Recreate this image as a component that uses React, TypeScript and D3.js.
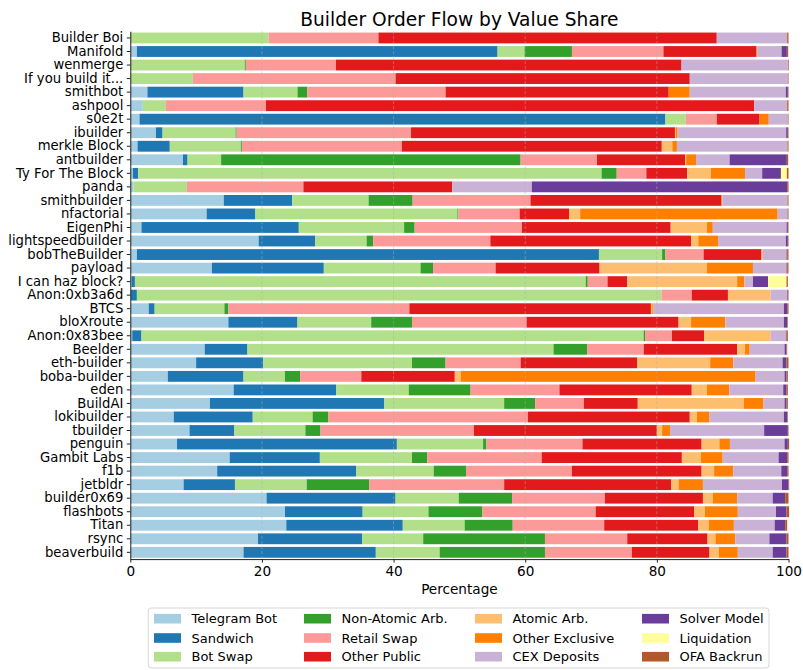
import React, { useEffect, useRef } from 'react';
import * as d3 from 'd3';

const builders = [
  'Builder Boi', 'Manifold', 'wenmerge', 'If you build it...', 'smithbot', 'ashpool', 's0e2t',
  'ibuilder', 'merkle Block', 'antbuilder', 'Ty For The Block', 'panda', 'smithbuilder',
  'nfactorial', 'EigenPhi', 'lightspeedbuilder', 'bobTheBuilder', 'payload', 'I can haz block?',
  'Anon:0xb3a6d', 'BTCS', 'bloXroute', 'Anon:0x83bee', 'Beelder', 'eth-builder', 'boba-builder',
  'eden', 'BuildAI', 'lokibuilder', 'tbuilder', 'penguin', 'Gambit Labs', 'f1b', 'jetbldr',
  'builder0x69', 'flashbots', 'Titan', 'rsync', 'beaverbuild',
];

const categories = [
  'Telegram Bot', 'Sandwich', 'Bot Swap', 'Non-Atomic Arb.', 'Retail Swap', 'Other Public',
  'Atomic Arb.', 'Other Exclusive', 'CEX Deposits', 'Solver Model', 'Liquidation', 'OFA Backrun',
];

const colors = [
  '#a6cee3', '#1f78b4', '#b2df8a', '#33a02c', '#fb9a99', '#e31a1c',
  '#fdbf6f', '#ff7f00', '#cab2d6', '#6a3d9a', '#ffff99', '#b15928',
];

// one array per category, in builder order
const telegramBot = [0, 1.0, 0, 0, 2.6, 1.9, 1.4, 3.9, 1.1, 8.0, 0.4, 0.5, 14.2, 11.6, 1.7, 19.5, 1.0, 12.4, 0.2, 0.1, 2.8, 14.9, 0.3, 11.3, 10.0, 5.7, 15.7, 12.1, 6.6, 9.0, 7.1, 15.1, 13.2, 8.1, 20.7, 23.5, 23.7, 19.4, 17.2];
const sandwich = [0, 54.8, 0, 0, 14.6, 0, 79.9, 1.0, 4.9, 0.7, 0.8, 0, 10.4, 7.4, 23.9, 8.6, 70.2, 17.0, 0.5, 0.9, 0.9, 10.5, 1.4, 6.5, 10.2, 11.5, 15.6, 26.5, 12.0, 6.8, 33.4, 13.7, 21.1, 7.8, 19.6, 11.8, 17.7, 15.8, 20.1];
const botSwap = [21.0, 4.1, 17.4, 9.5, 8.2, 3.5, 3.1, 11.1, 10.8, 5.1, 70.4, 8.1, 11.6, 30.7, 16.0, 7.8, 9.6, 14.7, 68.5, 79.7, 10.6, 11.2, 76.3, 46.5, 22.6, 6.3, 11.0, 18.2, 9.1, 10.8, 13.1, 14.0, 11.8, 10.9, 9.6, 10.0, 9.4, 9.3, 9.7];
const nonAtomicArb = [0, 7.2, 0.15, 0, 1.5, 0, 0, 0.15, 0.15, 45.5, 2.3, 0, 6.7, 0.15, 1.6, 1.0, 0.5, 1.9, 0.3, 0, 0.6, 6.2, 0.2, 5.1, 5.1, 2.3, 9.4, 4.7, 2.4, 2.3, 0.5, 2.3, 4.9, 9.5, 8.1, 8.2, 7.3, 18.5, 16.0];
const retailSwap = [16.7, 13.9, 13.7, 30.8, 21.0, 15.2, 4.7, 26.5, 24.3, 11.6, 4.5, 17.7, 17.9, 9.3, 16.3, 17.8, 5.8, 9.5, 3.0, 4.6, 27.5, 17.4, 4.1, 8.6, 11.4, 9.3, 13.5, 7.4, 30.3, 23.3, 14.6, 17.4, 16.1, 20.5, 14.1, 17.2, 13.9, 12.5, 13.2];
const otherPublic = [51.4, 14.1, 52.5, 44.7, 33.9, 74.2, 6.5, 40.1, 39.5, 13.4, 6.2, 22.6, 29.0, 7.5, 22.6, 30.5, 8.8, 15.8, 3.0, 5.5, 36.7, 23.1, 4.9, 14.2, 17.7, 14.2, 20.1, 8.2, 24.6, 27.8, 18.1, 21.3, 19.7, 25.4, 14.9, 15.0, 14.3, 12.2, 11.8];
const atomicArb = [0, 0, 0, 0, 0, 0, 0, 0.15, 1.6, 0.15, 3.6, 0, 0, 1.7, 5.5, 1.1, 0.2, 16.3, 16.7, 6.5, 0.2, 1.9, 10.1, 1.2, 11.1, 0.9, 2.3, 16.1, 1.1, 0.8, 2.7, 2.9, 1.9, 1.1, 1.5, 1.6, 1.6, 1.2, 1.4];
const otherExclusive = [0, 0.15, 0, 0, 3.2, 0, 1.4, 0.25, 0.7, 1.5, 5.2, 0, 0.15, 30.0, 0.9, 3.0, 0, 7.0, 1.1, 0, 0.2, 5.2, 0, 0.7, 3.5, 44.8, 3.4, 3.0, 1.9, 1.2, 1.6, 3.3, 2.9, 3.7, 3.7, 5.0, 3.8, 3.0, 2.9];
const cexDeposits = [10.7, 3.7, 16.2, 14.9, 14.6, 5.0, 2.9, 16.5, 16.8, 5.1, 2.6, 12.1, 9.9, 1.5, 11.2, 10.3, 3.6, 5.1, 1.3, 2.5, 19.8, 8.9, 2.3, 5.3, 7.5, 4.4, 8.2, 3.2, 11.3, 14.3, 8.3, 8.5, 7.3, 12.0, 5.4, 5.8, 6.2, 5.2, 5.3];
const solverModel = [0, 0.8, 0, 0, 0.3, 0, 0, 0.25, 0, 8.7, 2.85, 38.8, 0, 0.05, 0.2, 0.3, 0.1, 0.1, 2.3, 0.1, 0.5, 0.5, 0.1, 0.3, 0.6, 0.3, 0.5, 0.3, 0.5, 3.6, 0.5, 1.3, 0.9, 1.0, 1.9, 1.6, 1.6, 2.6, 2.1];
const liquidation = [0, 0, 0, 0, 0, 0, 0, 0, 0, 0, 0.9, 0, 0, 0, 0, 0, 0, 0, 2.8, 0, 0, 0, 0, 0, 0, 0, 0, 0, 0, 0, 0, 0, 0, 0, 0, 0, 0, 0, 0];
const ofaBackrun = [0.2, 0.2, 0.1, 0.1, 0.1, 0.2, 0.1, 0.1, 0.15, 0.2, 0.25, 0.2, 0.15, 0.1, 0.1, 0.1, 0.2, 0.2, 0.2, 0.1, 0.2, 0.1, 0.2, 0.1, 0.3, 0.2, 0.2, 0.2, 0.1, 0.1, 0.2, 0.2, 0.2, 0.1, 0.5, 0.4, 0.3, 0.3, 0.3];

const series = [
  telegramBot, sandwich, botSwap, nonAtomicArb, retailSwap, otherPublic,
  atomicArb, otherExclusive, cexDeposits, solverModel, liquidation, ofaBackrun,
];

const xTicks = [0, 20, 40, 60, 80, 100];

const font = 'DejaVu Sans, sans-serif';

export default function App() {
  const ref = useRef<SVGSVGElement>(null);

  useEffect(() => {
    document.body.style.margin = '0';
    const width = 803;
    const height = 670;
    const margin = { top: 31.2, right: 14.5, bottom: 110.9, left: 130.3 };

    const svg = d3.select(ref.current)
      .attr('width', width)
      .attr('height', height);
    svg.selectAll('*').remove();

    const rows = builders.map((b, i) => {
      const r: any = { builder: b };
      categories.forEach((c, j) => { r[c] = series[j][i]; });
      return r;
    });

    const stacked = d3.stack<any>().keys(categories)(rows);

    const x = d3.scaleLinear()
      .domain([0, 100])
      .range([margin.left, width - margin.right]);

    const y = d3.scaleBand()
      .domain(builders)
      .range([margin.top, height - margin.bottom]);

    const barH = y.bandwidth() * 0.8;

    svg.append('text')
      .attr('x', (x(0) + x(100)) / 2)
      .attr('y', 26)
      .attr('text-anchor', 'middle')
      .style('font-family', font)
      .style('font-size', '18.6px')
      .text('Builder Order Flow by Value Share');

    svg.append('g')
      .selectAll('g')
      .data(stacked)
      .join('g')
      .attr('fill', (_d, i) => colors[i])
      .selectAll('rect')
      .data(d => d)
      .join('rect')
      .attr('x', d => x(d[0]))
      .attr('width', d => Math.max(0, x(d[1]) - x(d[0])))
      .attr('y', d => (y(d.data.builder) as number) + (y.bandwidth() - barH) / 2)
      .attr('height', barH);

    // dashed vertical grid, drawn over the bars
    svg.append('g')
      .selectAll('line')
      .data(xTicks.slice(1, -1))
      .join('line')
      .attr('x1', d => x(d))
      .attr('x2', d => x(d))
      .attr('y1', margin.top)
      .attr('y2', height - margin.bottom)
      .attr('stroke', '#b0b0b0')
      .attr('stroke-opacity', 0.6)
      .attr('stroke-width', 0.8)
      .attr('stroke-dasharray', '3,2');

    const xAxis = svg.append('g')
      .attr('transform', `translate(0,${height - margin.bottom})`)
      .call(d3.axisBottom(x).tickValues(xTicks).tickSize(3.5).tickSizeOuter(0).tickPadding(3.5));
    xAxis.selectAll('text')
      .style('font-family', font)
      .style('font-size', '13.6px')
      .attr('fill', '#000');

    const yAxis = svg.append('g')
      .attr('transform', `translate(${margin.left},0)`)
      .call(d3.axisLeft(y).tickSize(3.5).tickSizeOuter(0).tickPadding(3.5));
    yAxis.selectAll('text')
      .style('font-family', font)
      .style('font-size', '13.2px')
      .attr('fill', '#000');

    [xAxis, yAxis].forEach(a => {
      a.select('.domain').attr('stroke', '#222').attr('stroke-width', 1);
      a.selectAll('.tick line').attr('stroke', '#222');
    });

    svg.append('text')
      .attr('x', (x(0) + x(100)) / 2)
      .attr('y', 594)
      .attr('text-anchor', 'middle')
      .style('font-family', font)
      .style('font-size', '13.6px')
      .text('Percentage');

    // legend, 4 columns x 3 rows
    const colX = [154, 304, 475, 642];
    const rowY = [618.7, 638, 656.7];
    const legend = svg.append('g');
    legend.append('rect')
      .attr('x', 148.3)
      .attr('y', 608)
      .attr('width', 769 - 148.3)
      .attr('height', 60)
      .attr('rx', 3)
      .attr('fill', '#fff')
      .attr('fill-opacity', 0.8)
      .attr('stroke', '#d6d6d6');

    categories.forEach((c, i) => {
      const col = Math.floor(i / 3);
      const row = i % 3;
      legend.append('rect')
        .attr('x', colX[col])
        .attr('y', rowY[row] - 4.8)
        .attr('width', 27)
        .attr('height', 9.6)
        .attr('fill', colors[i]);
      legend.append('text')
        .attr('x', colX[col] + 37.5)
        .attr('y', rowY[row])
        .attr('dy', '0.35em')
        .style('font-family', font)
        .style('font-size', '13px')
        .text(c);
    });
  }, []);

  return <svg ref={ref} />;
}
